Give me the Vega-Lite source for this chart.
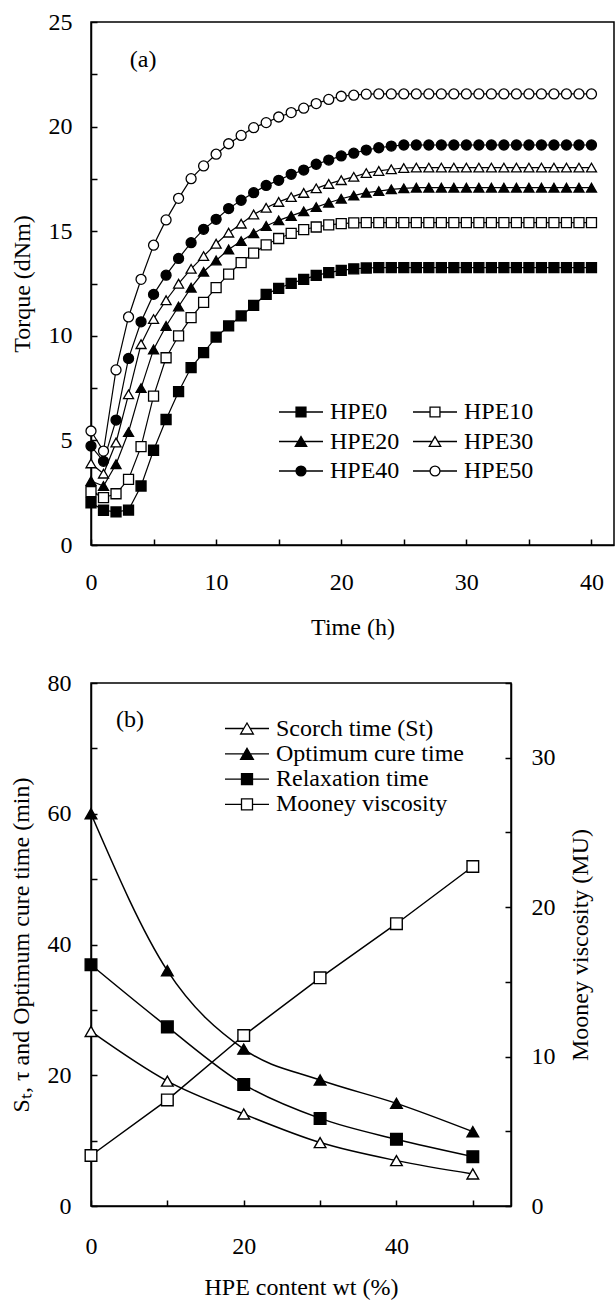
{
  "$schema": "https://vega.github.io/schema/vega-lite/v6.json",
  "background": "white",
  "padding": {"left": 8, "top": 9, "right": 0, "bottom": 0},
  "spacing": 30,
  "resolve": {"scale": {"shape": "independent", "fill": "independent", "stroke": "independent"}, "legend": {"shape": "independent", "fill": "independent", "stroke": "independent"}},
  "config": {
    "font": "Liberation Serif",
    "view": {"stroke": "black", "strokeWidth": 1.5},
    "axis": {
      "domainColor": "black", "domainWidth": 1.5,
      "tickColor": "black", "tickWidth": 1.5, "tickSize": -6,
      "labelColor": "black", "labelFont": "Liberation Serif", "labelFontSize": 24,
      "titleColor": "black", "titleFont": "Liberation Serif", "titleFontSize": 24, "titleFontWeight": "normal",
      "grid": false, "labelFlush": false, "labelOverlap": false
    }
  },
  "datasets": {
    "torque": [
      {"series":"HPE0","t":0,"torque":2.02},{"series":"HPE0","t":1,"torque":1.66},{"series":"HPE0","t":2,"torque":1.58},{"series":"HPE0","t":3,"torque":1.67},{"series":"HPE0","t":4,"torque":2.82},{"series":"HPE0","t":5,"torque":4.53},{"series":"HPE0","t":6,"torque":6.0},{"series":"HPE0","t":7,"torque":7.33},{"series":"HPE0","t":8,"torque":8.48},{"series":"HPE0","t":9,"torque":9.2},{"series":"HPE0","t":10,"torque":9.94},{"series":"HPE0","t":11,"torque":10.47},{"series":"HPE0","t":12,"torque":10.95},{"series":"HPE0","t":13,"torque":11.45},{"series":"HPE0","t":14,"torque":11.98},{"series":"HPE0","t":15,"torque":12.27},{"series":"HPE0","t":16,"torque":12.51},{"series":"HPE0","t":17,"torque":12.7},{"series":"HPE0","t":18,"torque":12.89},{"series":"HPE0","t":19,"torque":13.02},{"series":"HPE0","t":20,"torque":13.13},{"series":"HPE0","t":21,"torque":13.2},{"series":"HPE0","t":22,"torque":13.24},{"series":"HPE0","t":23,"torque":13.26},{"series":"HPE0","t":24,"torque":13.26},{"series":"HPE0","t":25,"torque":13.26},{"series":"HPE0","t":26,"torque":13.26},{"series":"HPE0","t":27,"torque":13.26},{"series":"HPE0","t":28,"torque":13.26},{"series":"HPE0","t":29,"torque":13.26},{"series":"HPE0","t":30,"torque":13.26},{"series":"HPE0","t":31,"torque":13.26},{"series":"HPE0","t":32,"torque":13.26},{"series":"HPE0","t":33,"torque":13.26},{"series":"HPE0","t":34,"torque":13.26},{"series":"HPE0","t":35,"torque":13.26},{"series":"HPE0","t":36,"torque":13.26},{"series":"HPE0","t":37,"torque":13.26},{"series":"HPE0","t":38,"torque":13.26},{"series":"HPE0","t":39,"torque":13.26},{"series":"HPE0","t":40,"torque":13.26},
      {"series":"HPE10","t":0,"torque":2.55},{"series":"HPE10","t":1,"torque":2.26},{"series":"HPE10","t":2,"torque":2.45},{"series":"HPE10","t":3,"torque":3.14},{"series":"HPE10","t":4,"torque":4.7},{"series":"HPE10","t":5,"torque":7.12},{"series":"HPE10","t":6,"torque":8.95},{"series":"HPE10","t":7,"torque":10.0},{"series":"HPE10","t":8,"torque":10.87},{"series":"HPE10","t":9,"torque":11.6},{"series":"HPE10","t":10,"torque":12.3},{"series":"HPE10","t":11,"torque":12.95},{"series":"HPE10","t":12,"torque":13.5},{"series":"HPE10","t":13,"torque":13.95},{"series":"HPE10","t":14,"torque":14.35},{"series":"HPE10","t":15,"torque":14.65},{"series":"HPE10","t":16,"torque":14.9},{"series":"HPE10","t":17,"torque":15.08},{"series":"HPE10","t":18,"torque":15.2},{"series":"HPE10","t":19,"torque":15.3},{"series":"HPE10","t":20,"torque":15.36},{"series":"HPE10","t":21,"torque":15.4},{"series":"HPE10","t":22,"torque":15.41},{"series":"HPE10","t":23,"torque":15.41},{"series":"HPE10","t":24,"torque":15.41},{"series":"HPE10","t":25,"torque":15.41},{"series":"HPE10","t":26,"torque":15.41},{"series":"HPE10","t":27,"torque":15.41},{"series":"HPE10","t":28,"torque":15.41},{"series":"HPE10","t":29,"torque":15.41},{"series":"HPE10","t":30,"torque":15.41},{"series":"HPE10","t":31,"torque":15.41},{"series":"HPE10","t":32,"torque":15.41},{"series":"HPE10","t":33,"torque":15.41},{"series":"HPE10","t":34,"torque":15.41},{"series":"HPE10","t":35,"torque":15.41},{"series":"HPE10","t":36,"torque":15.41},{"series":"HPE10","t":37,"torque":15.41},{"series":"HPE10","t":38,"torque":15.41},{"series":"HPE10","t":39,"torque":15.41},{"series":"HPE10","t":40,"torque":15.41},
      {"series":"HPE20","t":0,"torque":3.06},{"series":"HPE20","t":1,"torque":2.82},{"series":"HPE20","t":2,"torque":3.86},{"series":"HPE20","t":3,"torque":5.4},{"series":"HPE20","t":4,"torque":7.5},{"series":"HPE20","t":5,"torque":9.35},{"series":"HPE20","t":6,"torque":10.47},{"series":"HPE20","t":7,"torque":11.4},{"series":"HPE20","t":8,"torque":12.3},{"series":"HPE20","t":9,"torque":13.06},{"series":"HPE20","t":10,"torque":13.6},{"series":"HPE20","t":11,"torque":14.13},{"series":"HPE20","t":12,"torque":14.53},{"series":"HPE20","t":13,"torque":14.9},{"series":"HPE20","t":14,"torque":15.25},{"series":"HPE20","t":15,"torque":15.52},{"series":"HPE20","t":16,"torque":15.73},{"series":"HPE20","t":17,"torque":15.95},{"series":"HPE20","t":18,"torque":16.15},{"series":"HPE20","t":19,"torque":16.36},{"series":"HPE20","t":20,"torque":16.55},{"series":"HPE20","t":21,"torque":16.7},{"series":"HPE20","t":22,"torque":16.84},{"series":"HPE20","t":23,"torque":16.92},{"series":"HPE20","t":24,"torque":17.0},{"series":"HPE20","t":25,"torque":17.05},{"series":"HPE20","t":26,"torque":17.08},{"series":"HPE20","t":27,"torque":17.08},{"series":"HPE20","t":28,"torque":17.08},{"series":"HPE20","t":29,"torque":17.08},{"series":"HPE20","t":30,"torque":17.08},{"series":"HPE20","t":31,"torque":17.08},{"series":"HPE20","t":32,"torque":17.08},{"series":"HPE20","t":33,"torque":17.08},{"series":"HPE20","t":34,"torque":17.08},{"series":"HPE20","t":35,"torque":17.08},{"series":"HPE20","t":36,"torque":17.08},{"series":"HPE20","t":37,"torque":17.08},{"series":"HPE20","t":38,"torque":17.08},{"series":"HPE20","t":39,"torque":17.08},{"series":"HPE20","t":40,"torque":17.08},
      {"series":"HPE30","t":0,"torque":3.9},{"series":"HPE30","t":1,"torque":3.41},{"series":"HPE30","t":2,"torque":4.9},{"series":"HPE30","t":3,"torque":7.2},{"series":"HPE30","t":4,"torque":9.6},{"series":"HPE30","t":5,"torque":10.8},{"series":"HPE30","t":6,"torque":11.7},{"series":"HPE30","t":7,"torque":12.49},{"series":"HPE30","t":8,"torque":13.2},{"series":"HPE30","t":9,"torque":13.81},{"series":"HPE30","t":10,"torque":14.4},{"series":"HPE30","t":11,"torque":14.93},{"series":"HPE30","t":12,"torque":15.36},{"series":"HPE30","t":13,"torque":15.8},{"series":"HPE30","t":14,"torque":16.12},{"series":"HPE30","t":15,"torque":16.4},{"series":"HPE30","t":16,"torque":16.63},{"series":"HPE30","t":17,"torque":16.83},{"series":"HPE30","t":18,"torque":17.05},{"series":"HPE30","t":19,"torque":17.26},{"series":"HPE30","t":20,"torque":17.44},{"series":"HPE30","t":21,"torque":17.6},{"series":"HPE30","t":22,"torque":17.78},{"series":"HPE30","t":23,"torque":17.88},{"series":"HPE30","t":24,"torque":17.96},{"series":"HPE30","t":25,"torque":18.02},{"series":"HPE30","t":26,"torque":18.04},{"series":"HPE30","t":27,"torque":18.04},{"series":"HPE30","t":28,"torque":18.04},{"series":"HPE30","t":29,"torque":18.04},{"series":"HPE30","t":30,"torque":18.04},{"series":"HPE30","t":31,"torque":18.04},{"series":"HPE30","t":32,"torque":18.04},{"series":"HPE30","t":33,"torque":18.04},{"series":"HPE30","t":34,"torque":18.04},{"series":"HPE30","t":35,"torque":18.04},{"series":"HPE30","t":36,"torque":18.04},{"series":"HPE30","t":37,"torque":18.04},{"series":"HPE30","t":38,"torque":18.04},{"series":"HPE30","t":39,"torque":18.04},{"series":"HPE30","t":40,"torque":18.04},
      {"series":"HPE40","t":0,"torque":4.73},{"series":"HPE40","t":1,"torque":4.0},{"series":"HPE40","t":2,"torque":5.97},{"series":"HPE40","t":3,"torque":8.92},{"series":"HPE40","t":4,"torque":10.67},{"series":"HPE40","t":5,"torque":11.98},{"series":"HPE40","t":6,"torque":12.9},{"series":"HPE40","t":7,"torque":13.7},{"series":"HPE40","t":8,"torque":14.45},{"series":"HPE40","t":9,"torque":15.09},{"series":"HPE40","t":10,"torque":15.57},{"series":"HPE40","t":11,"torque":16.08},{"series":"HPE40","t":12,"torque":16.48},{"series":"HPE40","t":13,"torque":16.84},{"series":"HPE40","t":14,"torque":17.19},{"series":"HPE40","t":15,"torque":17.43},{"series":"HPE40","t":16,"torque":17.72},{"series":"HPE40","t":17,"torque":17.92},{"series":"HPE40","t":18,"torque":18.2},{"series":"HPE40","t":19,"torque":18.4},{"series":"HPE40","t":20,"torque":18.6},{"series":"HPE40","t":21,"torque":18.73},{"series":"HPE40","t":22,"torque":18.88},{"series":"HPE40","t":23,"torque":18.99},{"series":"HPE40","t":24,"torque":19.07},{"series":"HPE40","t":25,"torque":19.12},{"series":"HPE40","t":26,"torque":19.12},{"series":"HPE40","t":27,"torque":19.12},{"series":"HPE40","t":28,"torque":19.12},{"series":"HPE40","t":29,"torque":19.12},{"series":"HPE40","t":30,"torque":19.12},{"series":"HPE40","t":31,"torque":19.12},{"series":"HPE40","t":32,"torque":19.12},{"series":"HPE40","t":33,"torque":19.12},{"series":"HPE40","t":34,"torque":19.12},{"series":"HPE40","t":35,"torque":19.12},{"series":"HPE40","t":36,"torque":19.12},{"series":"HPE40","t":37,"torque":19.12},{"series":"HPE40","t":38,"torque":19.12},{"series":"HPE40","t":39,"torque":19.12},{"series":"HPE40","t":40,"torque":19.12},
      {"series":"HPE50","t":0,"torque":5.45},{"series":"HPE50","t":1,"torque":4.49},{"series":"HPE50","t":2,"torque":8.37},{"series":"HPE50","t":3,"torque":10.9},{"series":"HPE50","t":4,"torque":12.7},{"series":"HPE50","t":5,"torque":14.33},{"series":"HPE50","t":6,"torque":15.54},{"series":"HPE50","t":7,"torque":16.57},{"series":"HPE50","t":8,"torque":17.51},{"series":"HPE50","t":9,"torque":18.12},{"series":"HPE50","t":10,"torque":18.68},{"series":"HPE50","t":11,"torque":19.18},{"series":"HPE50","t":12,"torque":19.58},{"series":"HPE50","t":13,"torque":19.95},{"series":"HPE50","t":14,"torque":20.19},{"series":"HPE50","t":15,"torque":20.46},{"series":"HPE50","t":16,"torque":20.67},{"series":"HPE50","t":17,"torque":20.88},{"series":"HPE50","t":18,"torque":21.1},{"series":"HPE50","t":19,"torque":21.3},{"series":"HPE50","t":20,"torque":21.45},{"series":"HPE50","t":21,"torque":21.5},{"series":"HPE50","t":22,"torque":21.55},{"series":"HPE50","t":23,"torque":21.56},{"series":"HPE50","t":24,"torque":21.56},{"series":"HPE50","t":25,"torque":21.56},{"series":"HPE50","t":26,"torque":21.56},{"series":"HPE50","t":27,"torque":21.56},{"series":"HPE50","t":28,"torque":21.56},{"series":"HPE50","t":29,"torque":21.56},{"series":"HPE50","t":30,"torque":21.56},{"series":"HPE50","t":31,"torque":21.56},{"series":"HPE50","t":32,"torque":21.56},{"series":"HPE50","t":33,"torque":21.56},{"series":"HPE50","t":34,"torque":21.56},{"series":"HPE50","t":35,"torque":21.56},{"series":"HPE50","t":36,"torque":21.56},{"series":"HPE50","t":37,"torque":21.56},{"series":"HPE50","t":38,"torque":21.56},{"series":"HPE50","t":39,"torque":21.56},{"series":"HPE50","t":40,"torque":21.56}
    ],
    "times": [
      {"series":"Scorch time (St)","hpe":0,"val":26.7},{"series":"Scorch time (St)","hpe":10,"val":19.1},{"series":"Scorch time (St)","hpe":20,"val":14.07},{"series":"Scorch time (St)","hpe":30,"val":9.7},{"series":"Scorch time (St)","hpe":40,"val":6.94},{"series":"Scorch time (St)","hpe":50,"val":4.9},
      {"series":"Optimum cure time","hpe":0,"val":60},{"series":"Optimum cure time","hpe":10,"val":36.0},{"series":"Optimum cure time","hpe":20,"val":24.0},{"series":"Optimum cure time","hpe":30,"val":19.27},{"series":"Optimum cure time","hpe":40,"val":15.7},{"series":"Optimum cure time","hpe":50,"val":11.37},
      {"series":"Relaxation time","hpe":0,"val":36.9},{"series":"Relaxation time","hpe":10,"val":27.4},{"series":"Relaxation time","hpe":20,"val":18.6},{"series":"Relaxation time","hpe":30,"val":13.4},{"series":"Relaxation time","hpe":40,"val":10.2},{"series":"Relaxation time","hpe":50,"val":7.55}
    ],
    "mooney": [
      {"series":"Mooney viscosity","hpe":0,"mu":3.38},{"series":"Mooney viscosity","hpe":10,"mu":7.1},{"series":"Mooney viscosity","hpe":20,"mu":11.41},{"series":"Mooney viscosity","hpe":30,"mu":15.27},{"series":"Mooney viscosity","hpe":40,"mu":18.89},{"series":"Mooney viscosity","hpe":50,"mu":22.72}
    ],
    "one": [{"k": 1}]
  },
  "vconcat": [
    {
      "width": 523,
      "height": 523,
      "data": {"name": "torque"},
      "layer": [
        {
          "mark": {"type": "line", "color": "black", "strokeWidth": 1.2},
          "encoding": {
            "x": {"field": "t", "type": "quantitative", "scale": {"domain": [0, 41.8], "nice": false},
              "axis": {"title": "Time (h)", "values": [0,5,10,15,20,25,30,35,40], "labelExpr": "datum.value % 10 === 0 ? datum.label : ''", "labelPadding": 31, "titlePadding": 21}},
            "y": {"field": "torque", "type": "quantitative", "scale": {"domain": [0, 25], "nice": false},
              "axis": {"title": "Torque (dNm)", "values": [0,2.5,5,7.5,10,12.5,15,17.5,20,22.5,25], "labelExpr": "datum.value % 5 === 0 ? datum.label : ''", "labelPadding": 25, "titlePadding": 14}},
            "detail": {"field": "series", "type": "nominal"}
          }
        },
        {
          "mark": {"type": "point", "stroke": "black", "strokeWidth": 1.3, "opacity": 1, "size": 100},
          "encoding": {
            "x": {"field": "t", "type": "quantitative"},
            "y": {"field": "torque", "type": "quantitative"},
            "shape": {"condition": [
                {"test": "datum.series === 'HPE0' || datum.series === 'HPE10'", "value": "square"},
                {"test": "datum.series === 'HPE20' || datum.series === 'HPE30'", "value": "triangle-up"}
              ], "value": "circle"},
            "fill": {"condition": {"test": "datum.series === 'HPE10' || datum.series === 'HPE30' || datum.series === 'HPE50'", "value": "white"}, "value": "black"}
          }
        },
        {
          "transform": [{"filter": "false"}],
          "mark": {"type": "point", "filled": false, "opacity": 1, "strokeWidth": 1.3},
          "encoding": {
            "shape": {"field": "series", "type": "nominal",
              "scale": {"domain": ["HPE0","HPE10","HPE20","HPE30","HPE40","HPE50"],
                "range": ["M-2,0H-0.45M0.45,0H2M-0.45,-0.45H0.45V0.45H-0.45Z","M-2,0H-0.45M0.45,0H2M-0.45,-0.45H0.45V0.45H-0.45Z","M-2,0H-0.26M0.26,0H2M0,-0.45L0.52,0.45H-0.52Z","M-2,0H-0.26M0.26,0H2M0,-0.45L0.52,0.45H-0.52Z","M-2,0H-0.45M0.45,0H2M0.45,0A0.45,0.45,0,1,1,-0.45,0A0.45,0.45,0,1,1,0.45,0Z","M-2,0H-0.45M0.45,0H2M0.45,0A0.45,0.45,0,1,1,-0.45,0A0.45,0.45,0,1,1,0.45,0Z"]},
              "legend": {"title": null, "orient": "none", "direction": "horizontal", "legendX": 198, "legendY": 378, "columns": 2, "symbolSize": 484, "symbolStrokeWidth": 1.3, "labelFont": "Liberation Serif", "labelFontSize": 24, "labelColor": "black", "labelOffset": 17, "rowPadding": 5.5, "columnPadding": 10, "padding": 0, "symbolOffset": 0, "labelLimit": 0}},
            "fill": {"field": "series", "type": "nominal",
              "scale": {"domain": ["HPE0","HPE10","HPE20","HPE30","HPE40","HPE50"], "range": ["black","white","black","white","black","white"]},
              "legend": {"title": null, "orient": "none", "direction": "horizontal", "legendX": 198, "legendY": 378, "columns": 2, "symbolSize": 484, "symbolStrokeWidth": 1.3, "labelFont": "Liberation Serif", "labelFontSize": 24, "labelColor": "black", "labelOffset": 17, "rowPadding": 5.5, "columnPadding": 10, "padding": 0, "symbolOffset": 0, "labelLimit": 0}},
            "stroke": {"field": "series", "type": "nominal",
              "scale": {"domain": ["HPE0","HPE10","HPE20","HPE30","HPE40","HPE50"], "range": ["black","black","black","black","black","black"]},
              "legend": {"title": null, "orient": "none", "direction": "horizontal", "legendX": 198, "legendY": 378, "columns": 2, "symbolSize": 484, "symbolStrokeWidth": 1.3, "labelFont": "Liberation Serif", "labelFontSize": 24, "labelColor": "black", "labelOffset": 17, "rowPadding": 5.5, "columnPadding": 10, "padding": 0, "symbolOffset": 0, "labelLimit": 0}}
          }
        },
        {
          "data": {"name": "one"},
          "mark": {"type": "text", "text": "(a)", "align": "left", "baseline": "alphabetic", "fontSize": 24, "font": "Liberation Serif", "color": "black"},
          "encoding": {"x": {"datum": 3.1}, "y": {"datum": 22.85}}
        }
      ]
    },
    {
      "width": 420,
      "height": 523,
      "layer": [
        {
          "data": {"name": "times"},
          "layer": [
            {
              "mark": {"type": "line", "color": "black", "strokeWidth": 1.5, "interpolate": "monotone"},
              "encoding": {
                "x": {"field": "hpe", "type": "quantitative", "scale": {"domain": [0, 55], "nice": false},
                  "axis": {"title": "HPE content wt (%)", "values": [0,10,20,30,40,50], "labelExpr": "datum.value % 20 === 0 ? datum.label : ''", "labelPadding": 34, "titlePadding": 17}},
                "y": {"field": "val", "type": "quantitative", "scale": {"domain": [0, 80], "nice": false},
                  "axis": {"title": "Sₜ, τ and Optimum cure time (min)", "values": [0,10,20,30,40,50,60,70,80], "labelExpr": "datum.value % 20 === 0 ? datum.label : ''", "labelPadding": 26, "titlePadding": 14}},
                "detail": {"field": "series", "type": "nominal"}
              }
            },
            {
              "mark": {"type": "point", "stroke": "black", "strokeWidth": 1.4, "opacity": 1, "size": 135},
              "encoding": {
                "x": {"field": "hpe", "type": "quantitative"},
                "y": {"field": "val", "type": "quantitative"},
                "shape": {"condition": {"test": "datum.series === 'Relaxation time'", "value": "square"}, "value": "triangle-up"},
                "fill": {"condition": {"test": "datum.series === 'Scorch time (St)'", "value": "white"}, "value": "black"}
              }
            },
            {
              "data": {"name": "one"},
              "mark": {"type": "text", "text": "(b)", "align": "left", "baseline": "alphabetic", "fontSize": 24, "font": "Liberation Serif", "color": "black"},
              "encoding": {"x": {"datum": 3.27}, "y": {"datum": 73.3}}
            }
          ]
        },
        {
          "data": {"name": "mooney"},
          "layer": [
            {
              "mark": {"type": "line", "color": "black", "strokeWidth": 1.5},
              "encoding": {
                "x": {"field": "hpe", "type": "quantitative"},
                "y": {"field": "mu", "type": "quantitative", "scale": {"domain": [0, 35], "nice": false},
                  "axis": {"orient": "right", "title": "Mooney viscosity (MU)", "values": [0,5,10,15,20,25,30,35], "labelExpr": "datum.value % 10 === 0 ? datum.label : ''", "labelPadding": 26, "titlePadding": 13, "titleAngle": 270, "titleBaseline": "top"}}
              }
            },
            {
              "mark": {"type": "point", "shape": "square", "fill": "white", "stroke": "black", "strokeWidth": 1.4, "opacity": 1, "size": 135},
              "encoding": {
                "x": {"field": "hpe", "type": "quantitative"},
                "y": {"field": "mu", "type": "quantitative"}
              }
            }
          ]
        },
        {
          "data": {"name": "times"},
          "transform": [{"filter": "false"}],
          "mark": {"type": "point", "filled": false, "opacity": 1, "strokeWidth": 1.3},
          "encoding": {
            "shape": {"field": "series", "type": "nominal",
              "scale": {"domain": ["Scorch time (St)","Optimum cure time","Relaxation time","Mooney viscosity"],
                "range": ["M-2,0H-0.29M0.29,0H2M0,-0.5L0.58,0.5H-0.58Z","M-2,0H-0.29M0.29,0H2M0,-0.5L0.58,0.5H-0.58Z","M-2,0H-0.5M0.5,0H2M-0.5,-0.5H0.5V0.5H-0.5Z","M-2,0H-0.5M0.5,0H2M-0.5,-0.5H0.5V0.5H-0.5Z"]},
              "legend": {"title": null, "orient": "none", "legendX": 144, "legendY": 33.5, "symbolSize": 484, "symbolStrokeWidth": 1.3, "labelFont": "Liberation Serif", "labelFontSize": 24, "labelColor": "black", "labelOffset": 17, "rowPadding": 1.3, "padding": 0, "symbolOffset": 0, "labelLimit": 0}},
            "fill": {"field": "series", "type": "nominal",
              "scale": {"domain": ["Scorch time (St)","Optimum cure time","Relaxation time","Mooney viscosity"], "range": ["white","black","black","white"]},
              "legend": {"title": null, "orient": "none", "legendX": 144, "legendY": 33.5, "symbolSize": 484, "symbolStrokeWidth": 1.3, "labelFont": "Liberation Serif", "labelFontSize": 24, "labelColor": "black", "labelOffset": 17, "rowPadding": 1.3, "padding": 0, "symbolOffset": 0, "labelLimit": 0}},
            "stroke": {"field": "series", "type": "nominal",
              "scale": {"domain": ["Scorch time (St)","Optimum cure time","Relaxation time","Mooney viscosity"], "range": ["black","black","black","black"]},
              "legend": {"title": null, "orient": "none", "legendX": 144, "legendY": 33.5, "symbolSize": 484, "symbolStrokeWidth": 1.3, "labelFont": "Liberation Serif", "labelFontSize": 24, "labelColor": "black", "labelOffset": 17, "rowPadding": 1.3, "padding": 0, "symbolOffset": 0, "labelLimit": 0}}
          }
        }
      ],
      "resolve": {"scale": {"y": "independent"}}
    }
  ]
}
